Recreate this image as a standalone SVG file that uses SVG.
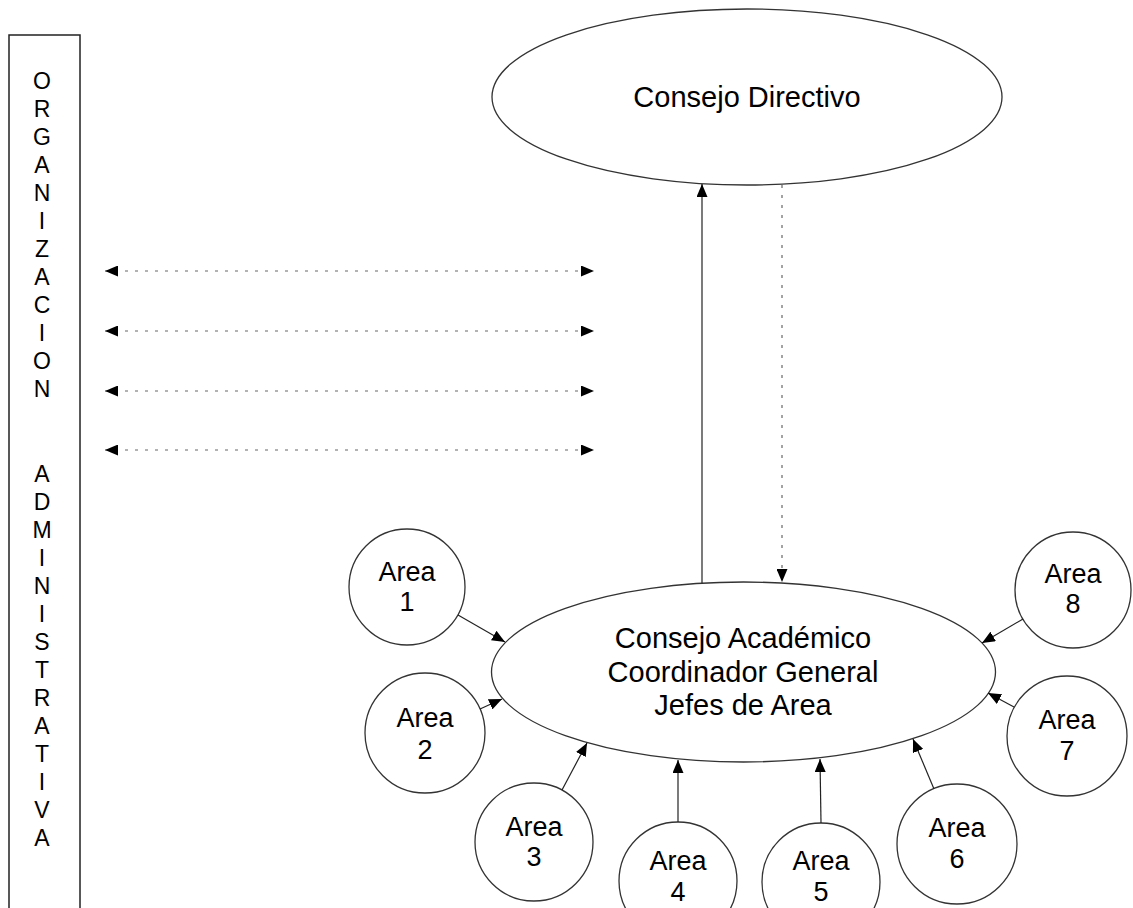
<svg xmlns="http://www.w3.org/2000/svg" width="1133" height="908" viewBox="0 0 1133 908">
<defs>
<marker id="ah" viewBox="0 0 13 11" refX="13" refY="5.5" markerWidth="13" markerHeight="11" markerUnits="userSpaceOnUse" orient="auto-start-reverse">
<path d="M0,0 L13,5.5 L0,11 z" fill="#000"/>
</marker>
<style>
.shape{fill:#fff;stroke:#333;stroke-width:1.3}
.lbl{font-family:"Liberation Sans",Arial,sans-serif;fill:#000;text-anchor:middle}
.vl{font-family:"Liberation Sans",Arial,sans-serif;font-size:23px;fill:#000;text-anchor:middle}
.area{font-size:27px}
.big{font-size:29px}
.solid{stroke:#222;stroke-width:1.2;fill:none}
.dash{stroke:#666;stroke-width:1.2;fill:none;stroke-dasharray:3 7}
</style>
</defs>
<rect width="1133" height="908" fill="#fff"/>

<g id="organizacion-administrativa">
<rect x="9" y="35" width="71" height="890" fill="none" stroke="#222" stroke-width="1.5"/>
<text class="vl" x="42" y="88.5">O</text>
<text class="vl" x="42" y="116.6">R</text>
<text class="vl" x="42" y="144.6">G</text>
<text class="vl" x="42" y="172.7">A</text>
<text class="vl" x="42" y="200.8">N</text>
<text class="vl" x="42" y="228.9">I</text>
<text class="vl" x="42" y="256.9">Z</text>
<text class="vl" x="42" y="285.0">A</text>
<text class="vl" x="42" y="313.1">C</text>
<text class="vl" x="42" y="341.1">I</text>
<text class="vl" x="42" y="369.2">O</text>
<text class="vl" x="42" y="397.3">N</text>
<text class="vl" x="42" y="481.5">A</text>
<text class="vl" x="42" y="509.6">D</text>
<text class="vl" x="42" y="537.6">M</text>
<text class="vl" x="42" y="565.7">I</text>
<text class="vl" x="42" y="593.8">N</text>
<text class="vl" x="42" y="621.8">I</text>
<text class="vl" x="42" y="649.9">S</text>
<text class="vl" x="42" y="678.0">T</text>
<text class="vl" x="42" y="706.1">R</text>
<text class="vl" x="42" y="734.1">A</text>
<text class="vl" x="42" y="762.2">T</text>
<text class="vl" x="42" y="790.3">I</text>
<text class="vl" x="42" y="818.3">V</text>
<text class="vl" x="42" y="846.4">A</text>
</g>

<g id="consejo-directivo">
<ellipse class="shape" cx="747" cy="97" rx="255" ry="88"/>
<text class="lbl big" x="747" y="107">Consejo Directivo</text>
</g>

<g id="consejo-academico">
<ellipse class="shape" cx="743.5" cy="672" rx="252" ry="90"/>
<text class="lbl big" x="743" y="648">Consejo Académico</text>
<text class="lbl big" x="743" y="682">Coordinador General</text>
<text class="lbl big" x="743" y="715">Jefes de Area</text>
</g>

<g id="area1"><circle class="shape" cx="407" cy="587" r="58"/><text class="lbl area" x="407" y="581">Area</text><text class="lbl area" x="407" y="611">1</text></g>
<g id="area2"><circle class="shape" cx="425" cy="733" r="60"/><text class="lbl area" x="425" y="727">Area</text><text class="lbl area" x="425" y="759">2</text></g>
<g id="area3"><circle class="shape" cx="534" cy="842" r="59"/><text class="lbl area" x="534" y="836">Area</text><text class="lbl area" x="534" y="866">3</text></g>
<g id="area4"><circle class="shape" cx="678" cy="881" r="59"/><text class="lbl area" x="678" y="870">Area</text><text class="lbl area" x="678" y="901">4</text></g>
<g id="area5"><circle class="shape" cx="821" cy="882" r="59"/><text class="lbl area" x="821" y="870">Area</text><text class="lbl area" x="821" y="901">5</text></g>
<g id="area6"><circle class="shape" cx="957" cy="844" r="60"/><text class="lbl area" x="957" y="837">Area</text><text class="lbl area" x="957" y="868">6</text></g>
<g id="area7"><circle class="shape" cx="1067" cy="736" r="60"/><text class="lbl area" x="1067" y="729">Area</text><text class="lbl area" x="1067" y="760">7</text></g>
<g id="area8"><circle class="shape" cx="1073" cy="590" r="58"/><text class="lbl area" x="1073" y="583">Area</text><text class="lbl area" x="1073" y="613">8</text></g>

<g id="connectors">
<line class="dash" x1="105" y1="271" x2="594" y2="271" marker-start="url(#ah)" marker-end="url(#ah)"/>
<line class="dash" x1="105" y1="331" x2="594" y2="331" marker-start="url(#ah)" marker-end="url(#ah)"/>
<line class="dash" x1="105" y1="391" x2="594" y2="391" marker-start="url(#ah)" marker-end="url(#ah)"/>
<line class="dash" x1="105" y1="450" x2="594" y2="450" marker-start="url(#ah)" marker-end="url(#ah)"/>
<line class="solid" x1="702" y1="583" x2="702" y2="184" marker-end="url(#ah)"/>
<line class="dash" x1="782" y1="185" x2="782" y2="582" marker-end="url(#ah)"/>
<line class="solid" x1="458" y1="615" x2="505" y2="642" marker-end="url(#ah)"/>
<line class="solid" x1="480" y1="709" x2="502" y2="699" marker-end="url(#ah)"/>
<line class="solid" x1="562" y1="790" x2="587" y2="743" marker-end="url(#ah)"/>
<line class="solid" x1="678" y1="822" x2="678" y2="760" marker-end="url(#ah)"/>
<line class="solid" x1="821" y1="823" x2="820" y2="759" marker-end="url(#ah)"/>
<line class="solid" x1="934" y1="789" x2="913" y2="739" marker-end="url(#ah)"/>
<line class="solid" x1="1014" y1="707" x2="988" y2="693" marker-end="url(#ah)"/>
<line class="solid" x1="1023" y1="619" x2="982" y2="643" marker-end="url(#ah)"/>
</g>
</svg>
